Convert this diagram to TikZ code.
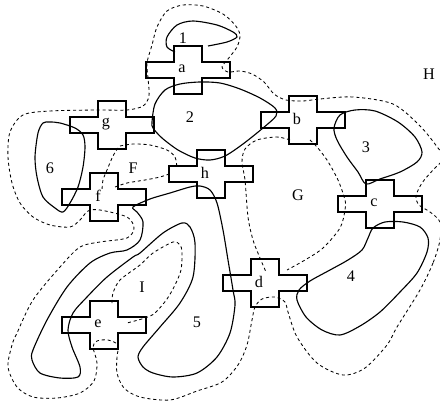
\documentclass[tikz,border=0pt]{standalone}
\usepackage{fontspec}
\setmainfont{Liberation Serif}
\begin{document}
\begin{tikzpicture}[x=0.025cm, y=-0.025cm,
  curve/.style={line width=0.8pt, line join=round},
  border/.style={line width=0.6pt, dash pattern=on 2.2pt off 2pt},
  crossbox/.style={line width=0.8pt},
  lbl/.style={inner sep=0pt, font=\fontsize{11.5}{13}\selectfont}]
\useasboundingbox (0,0) rectangle (440,406);
\clip (0,0) rectangle (440,406);

% crosses
\foreach \n/\cx/\cy in {a/188/70, b/303/120, c/380/204, d/265/283, e/104/325, f/104/197, g/112/125, h/211/174}{
  \draw[crossbox, shift={(\cx,\cy)}] (-14,-24) -- (14,-24) -- (14,-8) -- (42,-8) -- (42,8) -- (14,8) -- (14,24)
    -- (-14,24) -- (-14,8) -- (-42,8) -- (-42,-8) -- (-14,-8) -- cycle;
  \node[lbl] (\n) at (\cx-6,\cy-1) {\n};
}

% solid regions
\draw[curve] plot[smooth] coordinates {(175,52) (167,47) (167,37) (177,25) (193,21) (217,25) (233,32) (237,37) (227,42) (208,46)};
\draw[curve] plot[smooth cycle] coordinates {(152,122) (155,104) (165,90) (180,84) (200,82) (220,83) (240,89) (260,98) (275,108)
  (276,116) (263,128) (243,144) (225,156) (210,160) (195,158) (178,150) (162,138) (153,128)};
\draw[curve] plot[smooth cycle] coordinates {(334,128) (340,115) (355,110) (375,111) (398,122) (415,137) (422,152) (417,162)
  (400,172) (380,179) (366,184) (358,172) (347,157) (337,140)};
\draw[curve] plot[smooth cycle] coordinates {(373,228) (385,222) (403,222) (420,227) (428,238) (427,252) (417,273) (400,292)
  (380,312) (360,326) (340,335) (322,330) (306,317) (297,300) (299,290) (310,281) (330,270) (348,260) (362,250) (368,238)};
\draw[curve] plot[smooth cycle] coordinates {(133,207) (150,199) (170,193) (190,187) (200,186) (210,190) (217,203) (223,230)
  (228,260) (233,290) (235,305) (230,333) (217,357) (197,373) (173,377) (153,373) (143,367) (138,357) (143,347) (160,327)
  (180,303) (193,277) (195,243) (190,227) (182,223) (163,233) (140,253) (133,257) (107,277) (87,297) (73,313) (68,330)
  (72,347) (80,367) (78,377) (60,378) (40,373) (32,360) (33,350) (47,320) (67,287) (90,263) (110,253) (127,250)
  (140,240) (143,222) (137,212)};
\draw[curve] plot[smooth cycle] coordinates {(50,122) (60,123) (75,128) (83,135) (85,147) (83,167) (78,187) (70,203) (63,212)
  (55,208) (43,197) (37,177) (35,157) (38,133) (43,123)};

% dashed borders
\draw[border] plot[smooth cycle] coordinates {(440,240) (433,263) (420,290) (397,327) (387,345) (365,368) (343,375) (317,363)
  (297,337) (288,312) (285,302) (275,297) (262,299) (255,307) (252,320) (247,345) (238,365) (222,382) (197,391) (170,400)
  (140,397) (124,388) (117,373) (117,357) (118,345) (108,340) (97,341) (93,347) (97,363) (94,381) (80,393) (57,398)
  (33,397) (17,387) (8,367) (12,345) (17,333) (33,300) (60,267) (80,247) (100,242) (127,238) (134,228) (127,217)
  (100,210) (88,211) (80,220) (70,227) (50,225) (33,217) (20,203) (12,183) (8,157) (10,132) (23,115) (50,111) (97,110)
  (127,110) (143,106) (149,96) (148,78) (147,63) (152,45) (157,27) (167,11) (183,5) (203,6) (223,14) (235,25) (240,35)
  (237,47) (228,59) (222,67) (228,72) (240,71) (252,74) (264,82) (274,94) (286,100) (303,101) (320,99) (353,97)
  (393,104) (420,126) (438,148) (444,158) (433,170) (422,183) (416,196) (419,205) (430,212) (440,222)};
\draw[border] plot[smooth] coordinates {(118,148) (113,156) (107,170) (103,180) (102,190)};
\draw[border] plot[smooth] coordinates {(120,146) (133,144) (150,145) (167,150) (175,157) (177,168)};
\draw[border] plot[smooth] coordinates {(115,187) (127,183) (145,180) (160,177) (172,173)};
\draw[border] plot[smooth] coordinates {(290,140) (277,137) (257,140) (245,149) (242,162) (245,180) (248,217) (253,240)
  (260,258) (266,272)};
\draw[border] plot[smooth] coordinates {(310,140) (317,147) (327,160) (338,180) (345,200) (345,210) (340,228) (323,248)
  (305,260) (287,270)};
\draw[border] plot[smooth] coordinates {(112,303) (113,293) (120,280) (140,265) (153,253) (173,242) (180,245) (182,252)
  (181,270) (175,285) (167,299) (155,313) (145,318) (127,323)};

% region labels
\node[lbl] (r1) at (183,38) {1};
\node[lbl] (r2) at (190,117) {2};
\node[lbl] (r3) at (366,147) {3};
\node[lbl] (r4) at (351,276) {4};
\node[lbl] (r5) at (197,322) {5};
\node[lbl] (r6) at (50,168) {6};
\node[lbl] (rF) at (133,168) {F};
\node[lbl] (rG) at (298,195) {G};
\node[lbl] (rH) at (429,74) {H};
\node[lbl] (rI) at (142,287) {I};
\end{tikzpicture}
\end{document}
